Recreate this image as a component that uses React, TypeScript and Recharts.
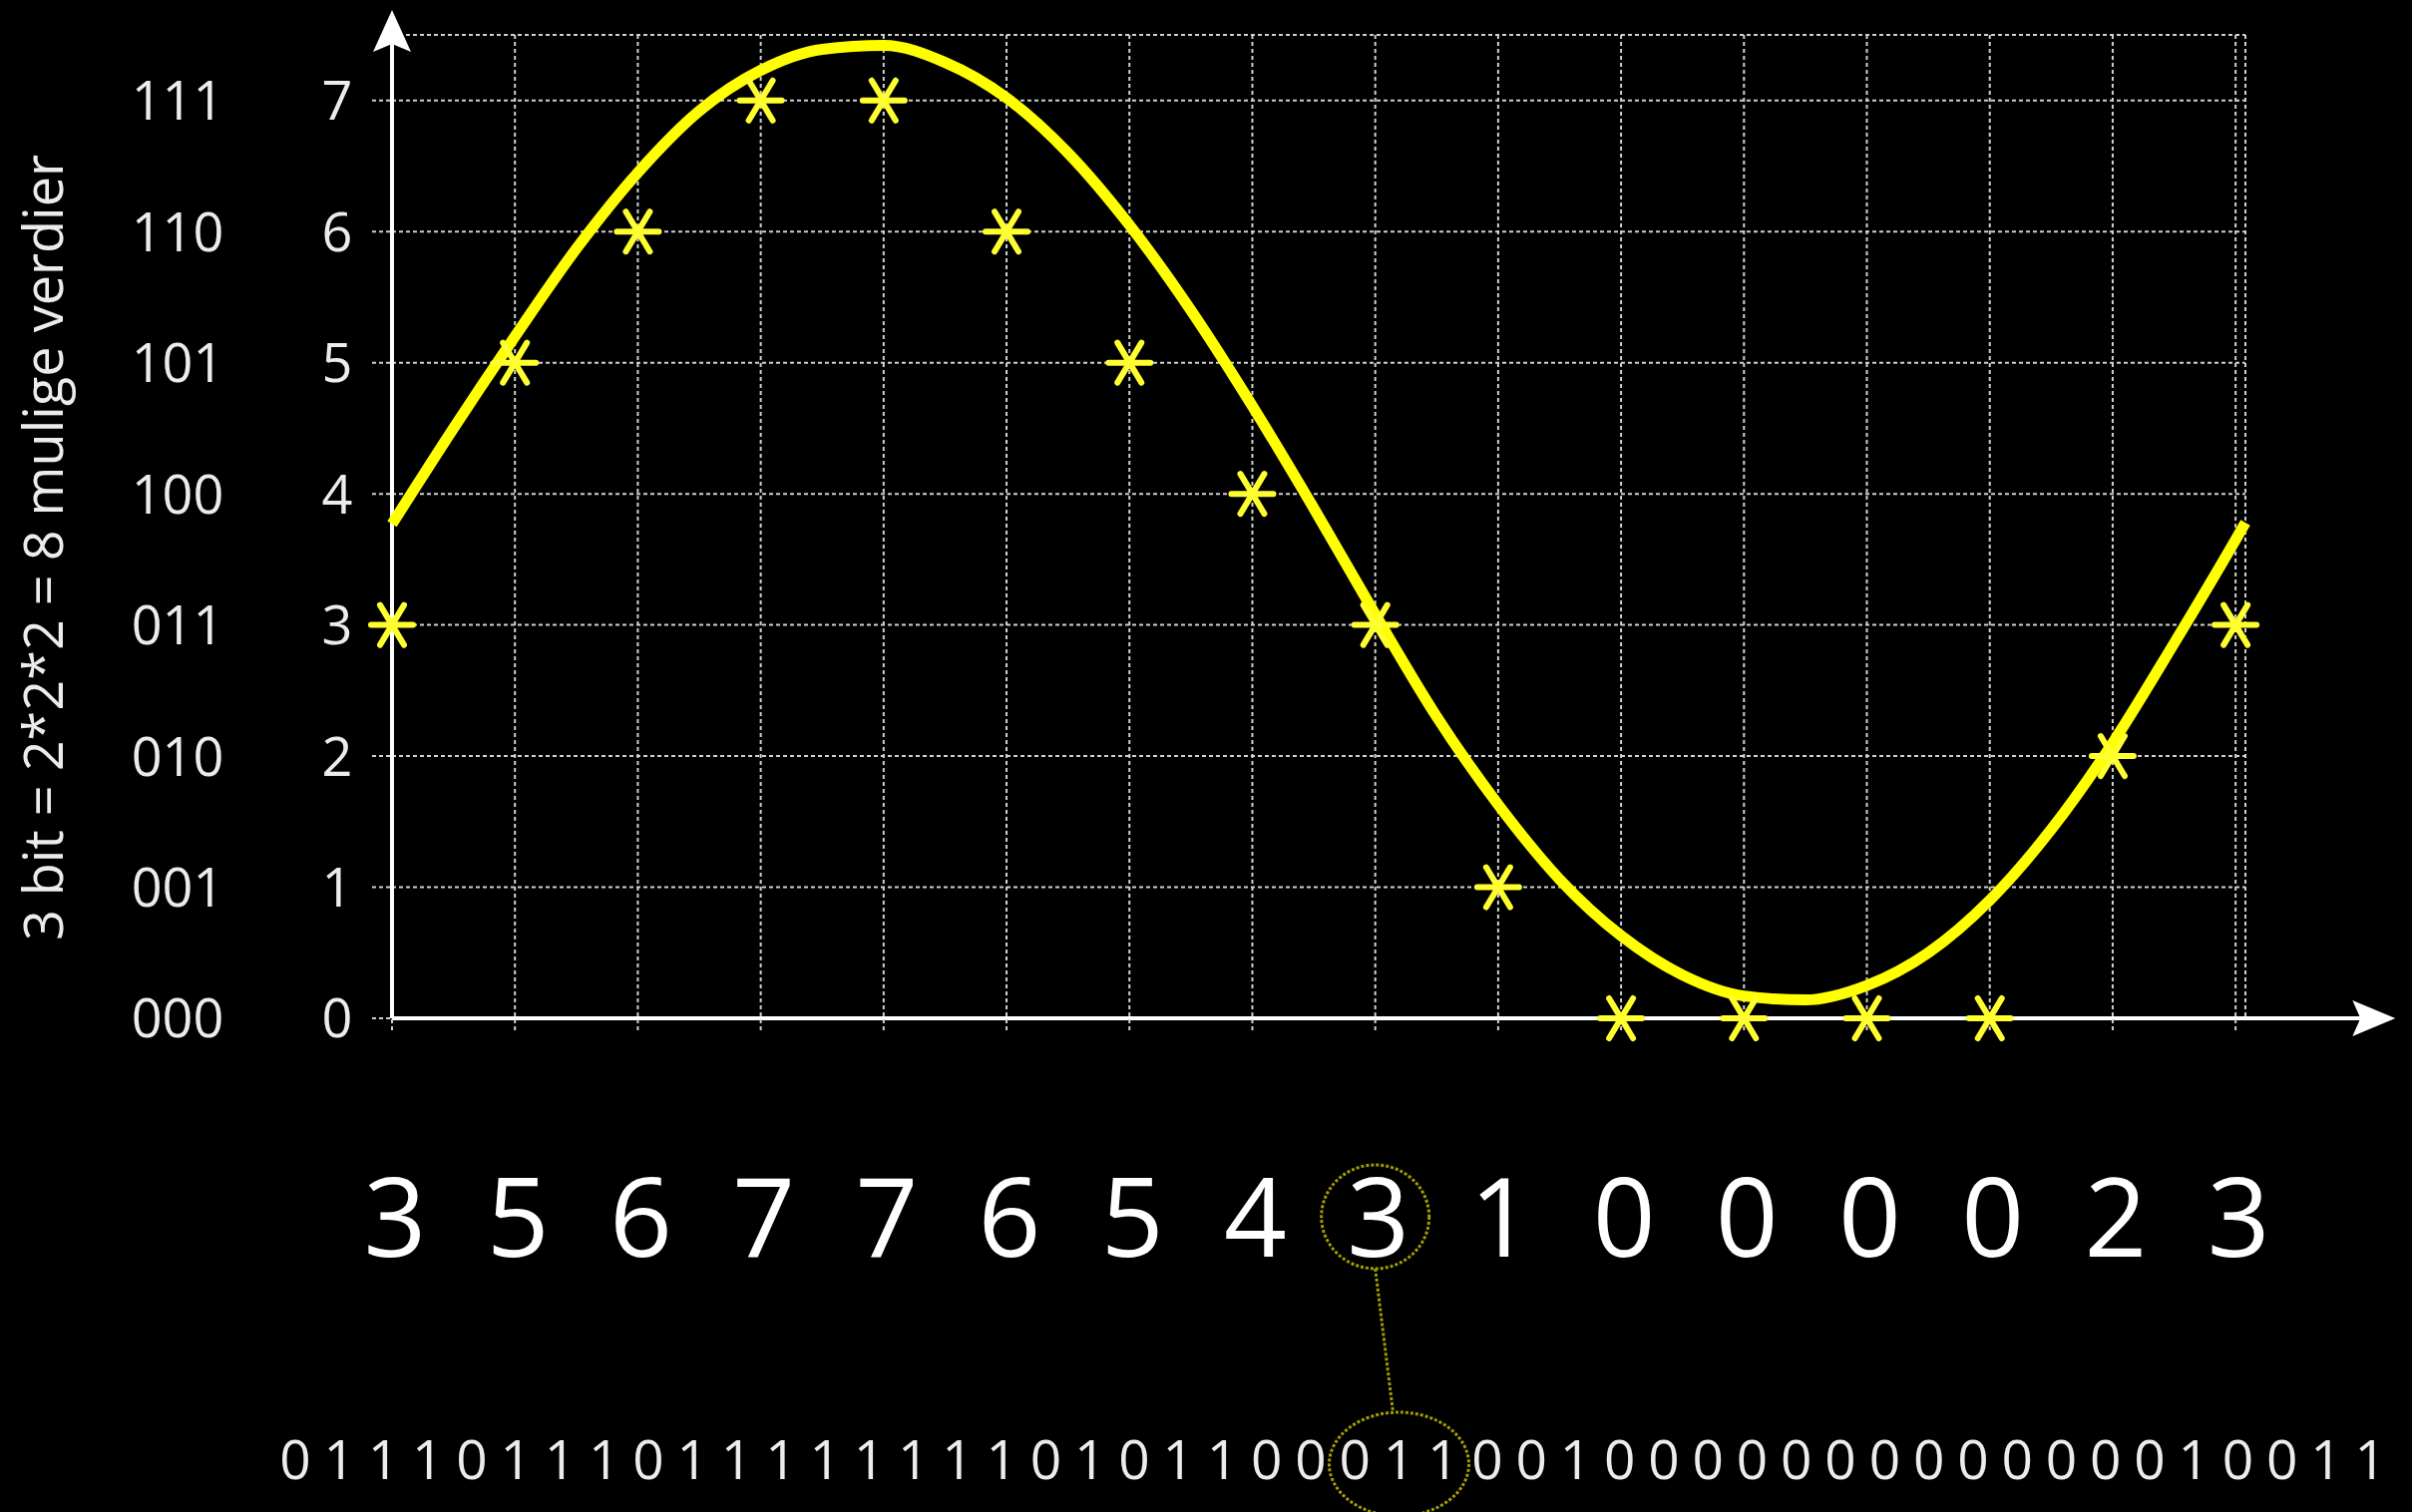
import React from 'react';
import {
  ComposedChart,
  Line,
  XAxis,
  YAxis,
  CartesianGrid,
  ReferenceLine,
  ReferenceDot,
} from 'recharts';

// Sampled (quantised) values, one per grid column
const SAMPLE_X = [0, 1, 2, 3, 4, 5, 6, 7, 8, 9, 10, 11, 12, 13, 14, 15];
const SAMPLE_VALUES = [3, 5, 6, 7, 7, 6, 5, 4, 3, 1, 0, 0, 0, 0, 2, 3];

// Analogue signal
const CURVE_X = [
  0, 0.5, 1, 1.5, 2, 2.5, 3, 3.5, 4, 4.5, 5, 5.5, 6, 6.5, 7, 7.5, 8, 8.5, 9,
  9.5, 10, 10.5, 11, 11.5, 12, 12.5, 13, 13.5, 14, 14.5, 15, 15.08,
];
const CURVE_Y = [
  3.77, 4.5, 5.2, 5.87, 6.45, 6.92, 7.23, 7.39, 7.42, 7.29, 7.02, 6.6, 6.05,
  5.4, 4.67, 3.89, 3.08, 2.3, 1.63, 1.06, 0.63, 0.33, 0.17, 0.14, 0.25, 0.5,
  0.9, 1.44, 2.1, 2.86, 3.65, 3.78,
];

// Axis ticks and labels
const Y_TICKS = [0, 1, 2, 3, 4, 5, 6, 7];
const Y_CODES = ['000', '001', '010', '011', '100', '101', '110', '111'];
const Y_TITLE = '3 bit = 2*2*2 = 8 mulige verdier';
const HIGHLIGHT_INDEX = 8;

// Bit stream = 3-bit code of every sample, in order
const BITS = SAMPLE_VALUES.map((v) => Y_CODES[v]).join('').split('');

// layout
const WIDTH = 2418;
const HEIGHT = 1516;
const X_MAX = 15.08;
const Y_MAX = 7.5;
const X_ARROW_TIP = 16.3;
const Y_ARROW_TIP = 7.69;
const FONT = '"Open Sans", "Noto Sans", sans-serif';
const TEXT = '#ececec';
const GRID = '#d0d0d0';
const YELLOW = '#ffff00';
const OLIVE = '#a39b00';
const BIT_X0 = 296;
const BIT_PITCH = 44.26;
const BIT_BASELINE = 1483;
const BIT_CENTER = BIT_X0 + (HIGHLIGHT_INDEX * 3 + 1) * BIT_PITCH;

const curveData = CURVE_X.map((x, i) => ({ x, y: CURVE_Y[i] }));
const sampleData = SAMPLE_X.map((x, i) => ({ x, v: SAMPLE_VALUES[i] }));

const YTick = ({ x, y, payload }: any) => {
  const v = payload.value as number;
  return (
    <g fontFamily={FONT} fontSize={54} fill={TEXT}>
      <text x={x - 35} y={y} dy="0.36em" textAnchor="middle">
        {v}
      </text>
      <text x={x - 195} y={y} dy="0.36em" textAnchor="middle">
        {Y_CODES[v]}
      </text>
    </g>
  );
};

const XTick = ({ x, y, payload }: any) => {
  const i = payload.value as number;
  const baseline = y + 227;
  return (
    <g>
      <text
        x={x + 3}
        y={baseline}
        textAnchor="middle"
        fontFamily={FONT}
        fontSize={110}
        fill="#ffffff"
      >
        {SAMPLE_VALUES[i]}
      </text>
      {i === HIGHLIGHT_INDEX && (
        <g fill="none" stroke={OLIVE} strokeWidth={3} strokeDasharray="3 2">
          <ellipse cx={x} cy={baseline - 40} rx={54} ry={52} />
          <line x1={x} y1={baseline + 12} x2={BIT_CENTER - 6} y2={1416} />
          <ellipse cx={BIT_CENTER} cy={1468} rx={70} ry={52} />
        </g>
      )}
    </g>
  );
};

const Asterisk = (props: any) => {
  const { cx, cy, index } = props;
  if (cx == null || cy == null) return <g key={`a-${index}`} />;
  return (
    <g key={`a-${index}`} stroke="#ffff30" strokeWidth={6} strokeLinecap="round">
      <line x1={cx - 21} y1={cy} x2={cx + 21} y2={cy} />
      <line x1={cx - 12} y1={cy - 20} x2={cx + 12} y2={cy + 20} />
      <line x1={cx + 12} y1={cy - 20} x2={cx - 12} y2={cy + 20} />
    </g>
  );
};

const XArrow = ({ cx, cy }: any) => (
  <path
    d={`M${cx},${cy} L${cx - 43},${cy - 18} L${cx - 35},${cy} L${cx - 43},${cy + 18} Z`}
    fill="#ffffff"
  />
);

const YArrow = ({ cx, cy }: any) => (
  <path
    d={`M${cx},${cy} L${cx - 19},${cy + 42} L${cx},${cy + 34} L${cx + 19},${cy + 42} Z`}
    fill="#ffffff"
  />
);

const tickLineStyle = { stroke: GRID, strokeWidth: 2, strokeDasharray: '4 3' };

export default function App() {
  return (
    <div
      style={{
        position: 'fixed',
        left: 0,
        top: 0,
        width: WIDTH,
        height: HEIGHT,
        background: '#000',
        overflow: 'hidden',
      }}
    >
      <ComposedChart
        width={WIDTH}
        height={HEIGHT}
        margin={{ top: 35, right: 167, bottom: 0, left: 0 }}
      >
        <CartesianGrid stroke={GRID} strokeWidth={2} strokeDasharray="4 3" />
        <XAxis
          type="number"
          dataKey="x"
          domain={[0, X_MAX]}
          ticks={SAMPLE_X}
          interval={0}
          height={495}
          axisLine={false}
          tickLine={tickLineStyle}
          tickSize={12}
          tickMargin={0}
          tick={<XTick />}
        />
        <YAxis
          type="number"
          domain={[0, Y_MAX]}
          ticks={Y_TICKS}
          interval={0}
          width={393}
          axisLine={false}
          tickLine={tickLineStyle}
          tickSize={20}
          tickMargin={0}
          tick={<YTick />}
        />

        {/* axes with arrow heads */}
        <ReferenceLine
          segment={[{ x: 0, y: 0 }, { x: X_ARROW_TIP - 0.2, y: 0 }]}
          stroke="#ffffff"
          strokeWidth={4}
          ifOverflow="visible"
        />
        <ReferenceLine
          segment={[{ x: 0, y: 0 }, { x: 0, y: Y_ARROW_TIP - 0.2 }]}
          stroke="#ffffff"
          strokeWidth={4}
          ifOverflow="visible"
        />
        <ReferenceDot x={X_ARROW_TIP} y={0} r={1} ifOverflow="visible" shape={<XArrow />} />
        <ReferenceDot x={0} y={Y_ARROW_TIP} r={1} ifOverflow="visible" shape={<YArrow />} />

        <Line
          data={curveData}
          dataKey="y"
          type="monotone"
          stroke={YELLOW}
          strokeWidth={11}
          dot={false}
          activeDot={false}
          isAnimationActive={false}
        />
        <Line
          data={sampleData}
          dataKey="v"
          stroke="none"
          dot={Asterisk}
          activeDot={false}
          isAnimationActive={false}
        />
      </ComposedChart>

      <svg
        width={WIDTH}
        height={HEIGHT}
        style={{ position: 'absolute', left: 0, top: 0, pointerEvents: 'none' }}
      >
        <text
          transform="translate(63,549) rotate(-90)"
          textAnchor="middle"
          fontFamily={FONT}
          fontSize={54}
          fill={TEXT}
        >
          {Y_TITLE}
        </text>
        <g fontFamily={FONT} fontSize={55} fill={TEXT} textAnchor="middle">
          {BITS.map((b, i) => (
            <text key={i} x={BIT_X0 + i * BIT_PITCH} y={BIT_BASELINE}>
              {b}
            </text>
          ))}
        </g>
      </svg>
    </div>
  );
}
